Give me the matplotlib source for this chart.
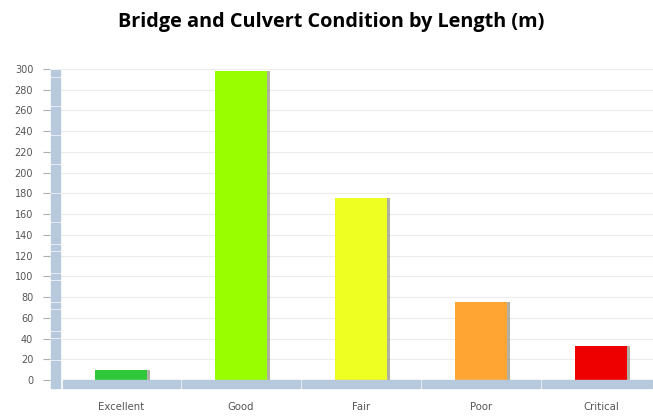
import matplotlib
matplotlib.use('Agg')
import matplotlib.pyplot as plt
from matplotlib.patches import Rectangle

# Bridge and culvert condition (length in m)
categories = ['Excellent', 'Good', 'Fair', 'Poor', 'Critical']
lengths = [10, 298, 176, 75, 33]
colors = ['#2fc83a', '#99ff00', '#eeff22', '#ffa533', '#ee0000']
y_ticks = list(range(0, 301, 20))

W, H = 653, 418
fig = plt.figure(figsize=(W / 100, H / 100), dpi=100)
# axes box in pixels: left 61, right 653, y from 380 (value 0) up to 69 (value 300)
ax = fig.add_axes([61 / W, (H - 380) / H, (653 - 61) / W, (380 - 69) / H])

x = list(range(len(categories)))
ax.set_xlim(-0.5, (653 - 121) / 120)
ax.set_ylim(0, 300)

# soft shadow, then the bars
ax.bar([i + 0.018 for i in x], lengths, width=0.44, color='#6f6f5a', alpha=0.55, zorder=2)
ax.bar(x, lengths, width=0.44, color=colors, zorder=3)

# faint gridlines
ax.set_yticks(y_ticks)
ax.yaxis.grid(True, color='#ececec', linewidth=0.8, zorder=0)
ax.set_axisbelow(True)

for s in ['top', 'right', 'bottom']:
    ax.spines[s].set_visible(False)
ax.spines['left'].set_position(('outward', 8))
ax.spines['left'].set_visible(False)
ax.tick_params(axis='y', length=5, color='#b0b0b0', labelsize=7, labelcolor='#555555', pad=7)
ax.set_xticks(x)
ax.set_xticklabels(categories)
ax.tick_params(axis='x', length=0, labelsize=7.3, labelcolor='#555555', pad=16)

band = '#b7c9dc'
ypx = 300 / 311.0  # data units per pixel
# floor band, split at category boundaries
bounds = [-0.5 + 1 / 120] + [i + 0.5 for i in x[:-1]] + [(653 - 121) / 120]
for a, b in zip(bounds[:-1], bounds[1:]):
    ax.add_patch(Rectangle((a + 1 / 120, -8 * ypx), (b - a) - 2 / 120, 8 * ypx,
                           color=band, clip_on=False, zorder=4))
# left wall band with small segments
wx0 = -0.5 - 10 / 120
for v in range(-8, 300, 7):
    top = min(v + 7, 300)
    ax.add_patch(Rectangle((wx0, v), 9 / 120, top - v - 1.3,
                           color=band, clip_on=False, zorder=4))

fig.suptitle('Bridge and Culvert Condition by Length (m)', x=331 / W, y=1 - 22 / H,
             va='center', fontsize=14.3, fontweight='bold', family='Open Sans')

fig.savefig('out.png', dpi=100, facecolor='white')
